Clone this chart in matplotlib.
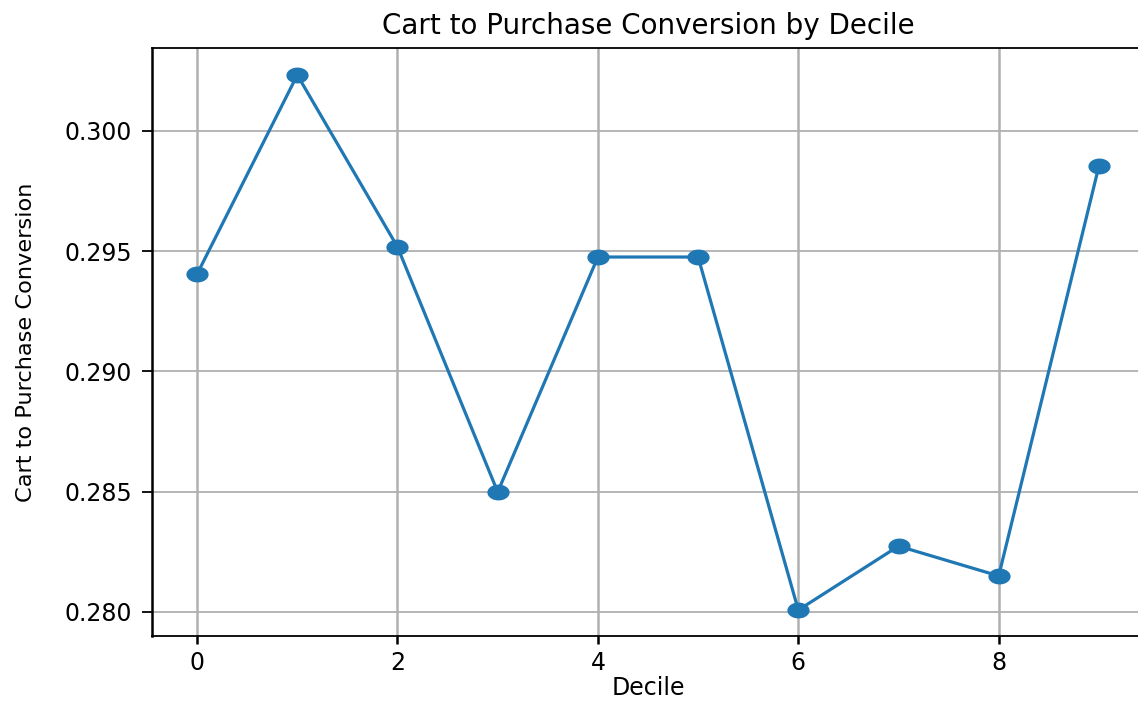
import matplotlib
matplotlib.use("Agg")
import matplotlib.pyplot as plt
import numpy as np

deciles = [0, 1, 2, 3, 4, 5, 6, 7, 8, 9]
conversion = [0.29405, 0.30233, 0.29518, 0.28499, 0.29476, 0.29476, 0.28008, 0.28274, 0.28150, 0.29854]
ytick_vals = [0.280, 0.285, 0.290, 0.295, 0.300]
ytick_labels = ['0.280', '0.285', '0.290', '0.295', '0.300']
xtick_vals = [0, 2, 4, 6, 8]

# horizontally stretched circle marker (the reference image is stretched sideways)
theta = np.linspace(0, 2 * np.pi, 60)
ellipse = list(zip(1.4 * np.cos(theta), np.sin(theta)))

fig = plt.figure(figsize=(11.38, 7.02), dpi=100)
ax = fig.add_axes([152/1138, 1 - 636/702, 992/1138, 588/702])
ax.plot(deciles, conversion, marker=ellipse, color='#1f77b4', linewidth=2.3,
        markersize=16, markeredgewidth=0)
ax.set_title('Cart to Purchase Conversion by Decile', fontsize=20, pad=10)
ax.set_xlabel('Decile', fontsize=17, labelpad=1)
ax.set_ylabel('Cart to Purchase Conversion', fontsize=16.2, labelpad=20)
ax.set_yticks(ytick_vals)
ax.set_yticklabels(ytick_labels)
ax.set_xticks(xtick_vals)
ax.tick_params(axis='y', labelsize=17, length=7.5, width=1.3, pad=7)
ax.tick_params(axis='x', labelsize=17, length=5.5, width=1.8, pad=5)
ax.xaxis.grid(True, color='#b0b0b0', linewidth=1.8)
ax.yaxis.grid(True, color='#b0b0b0', linewidth=1.3)
ax.set_axisbelow(True)
for side in ['left', 'right']:
    ax.spines[side].set_linewidth(1.8)
for side in ['top', 'bottom']:
    ax.spines[side].set_linewidth(1.3)
ax.set_xlim(-0.45, 9.45)
ax.set_ylim(0.279002, 0.303451)
fig.savefig('out.png', dpi=100)
